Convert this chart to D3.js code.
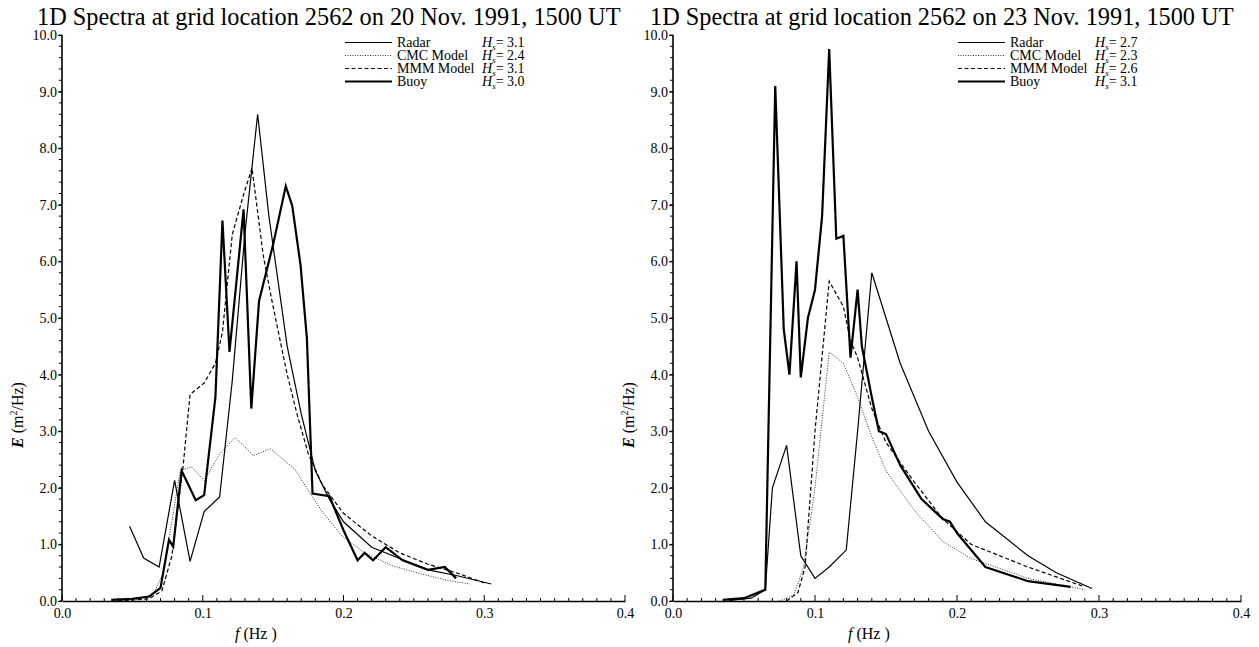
<!DOCTYPE html>
<html><head><meta charset="utf-8">
<script src="https://cdn.jsdelivr.net/npm/d3@7"></script>
<style>
html,body{margin:0;padding:0;background:#fff;}
svg{display:block;}
svg text{font-family:"Liberation Serif","Times New Roman",Times,serif !important;fill:#000;}
</style></head>
<body>
<svg id="chart" width="1259" height="647"></svg>
<script>
// ---------- data ----------
const titles = ["1D Spectra at grid location 2562 on 20 Nov. 1991, 1500 UT",
                "1D Spectra at grid location 2562 on 23 Nov. 1991, 1500 UT"];
const seriesNames = ["Radar", "CMC Model", "MMM Model", "Buoy"];
const hsLeft = ["3.1", "2.4", "3.1", "3.0"];
const hsRight = ["2.7", "2.3", "2.6", "3.1"];
const xTickVals = [0, 0.1, 0.2, 0.3, 0.4];
const yTickVals = [0,1,2,3,4,5,6,7,8,9,10];

// Left panel (20 Nov.) [f (Hz), E (m^2/Hz)]
const L_radar = [[0.048,1.32],[0.058,0.76],[0.069,0.6],[0.080,2.13],[0.091,0.7],[0.101,1.58],[0.112,1.84],
  [0.121,3.9],[0.130,6.5],[0.139,8.6],[0.147,6.8],[0.160,4.5],[0.170,3.3],[0.180,2.3],[0.190,1.8],
  [0.200,1.4],[0.220,0.95],[0.240,0.75],[0.260,0.55],[0.280,0.45],[0.305,0.3]];
const L_cmc = [[0.035,0.0],[0.055,0.03],[0.065,0.12],[0.072,0.5],[0.078,1.4],[0.084,2.3],[0.092,2.37],
  [0.101,2.13],[0.112,2.6],[0.123,2.89],[0.136,2.57],[0.148,2.69],[0.165,2.34],[0.184,1.61],[0.198,1.17],
  [0.215,0.85],[0.235,0.62],[0.255,0.48],[0.275,0.36],[0.29,0.3]];
const L_mmm = [[0.04,0.0],[0.062,0.04],[0.071,0.18],[0.078,0.79],[0.086,2.37],[0.091,3.65],[0.101,3.85],
  [0.109,4.2],[0.114,4.75],[0.121,6.48],[0.129,7.18],[0.135,7.65],[0.143,6.1],[0.150,5.2],[0.160,4.0],
  [0.167,3.3],[0.175,2.6],[0.185,2.05],[0.200,1.55],[0.220,1.15],[0.240,0.85],[0.260,0.65],[0.280,0.5],[0.300,0.32]];
const L_buoy = [[0.035,0.02],[0.05,0.04],[0.062,0.08],[0.070,0.23],[0.076,1.08],[0.079,0.96],[0.085,2.3],
  [0.095,1.78],[0.101,1.87],[0.109,3.6],[0.114,6.72],[0.119,4.4],[0.129,6.92],[0.1345,3.4],[0.140,5.3],
  [0.150,6.3],[0.159,7.33],[0.1636,6.98],[0.1695,5.93],[0.174,4.64],[0.178,1.9],[0.190,1.85],[0.200,1.25],
  [0.210,0.72],[0.215,0.85],[0.221,0.72],[0.230,0.95],[0.242,0.72],[0.260,0.55],[0.272,0.6],[0.280,0.4]];

// Right panel (23 Nov.)
const R_radar = [[0.04,0.01],[0.055,0.05],[0.065,0.2],[0.070,2.0],[0.080,2.75],[0.090,0.8],[0.100,0.4],
  [0.110,0.6],[0.122,0.9],[0.130,3.0],[0.140,5.8],[0.150,5.0],[0.160,4.2],[0.180,3.0],[0.200,2.1],
  [0.220,1.4],[0.250,0.8],[0.270,0.5],[0.295,0.22]];
const R_cmc = [[0.075,0.0],[0.085,0.1],[0.092,0.6],[0.100,2.0],[0.110,4.4],[0.120,4.2],[0.130,3.6],
  [0.140,2.9],[0.150,2.3],[0.170,1.6],[0.190,1.05],[0.210,0.75],[0.250,0.4],[0.290,0.2]];
const R_mmm = [[0.08,0.0],[0.088,0.15],[0.093,0.6],[0.100,3.0],[0.110,5.65],[0.120,5.2],[0.125,4.6],
  [0.130,4.3],[0.140,3.4],[0.150,2.8],[0.170,2.1],[0.190,1.45],[0.210,1.0],[0.250,0.6],[0.290,0.25]];
const R_buoy = [[0.035,0.02],[0.050,0.05],[0.065,0.2],[0.072,9.1],[0.078,4.8],[0.082,4.0],[0.087,6.0],
  [0.090,3.95],[0.095,5.0],[0.100,5.5],[0.105,6.8],[0.110,9.75],[0.115,6.4],[0.120,6.45],[0.125,4.3],
  [0.130,5.5],[0.133,4.5],[0.140,3.6],[0.145,3.0],[0.150,2.95],[0.160,2.4],[0.175,1.8],[0.190,1.45],
  [0.195,1.4],[0.200,1.2],[0.220,0.6],[0.250,0.35],[0.280,0.25]];

// ---------- drawing ----------
const svg = d3.select("#chart");
const FONT = '"Liberation Serif","Times New Roman",Times,serif';
const styles = [
  {w:1.2, dash:null, op:1},
  {w:1.0, dash:"1,1.5", op:0.8},
  {w:1.2, dash:"4,2.5", op:1},
  {w:2.2, dash:null, op:1}
];

function panel(cfg){
  const x = d3.scaleLinear().domain([0,0.4]).range([cfg.left, cfg.right]);
  const y = d3.scaleLinear().domain([0,10]).range([cfg.bottom, cfg.top]);
  const g = svg.append("g");

  g.append("text").attr("x", cfg.titleX).attr("y", 25).style("font-size","24.3px").text(cfg.title);

  const xa = d3.axisBottom(x).tickValues(xTickVals).tickFormat(d3.format(".1f")).tickSize(0).tickPadding(7);
  const xg = g.append("g").attr("transform", `translate(0,${cfg.bottom})`).call(xa);
  xg.attr("font-family", null);
  xg.select(".domain").attr("stroke","#000").attr("stroke-width",1.6);
  xg.selectAll("text").style("font-size","14px").style("font-family", FONT);
  const xMinor = d3.range(0, 0.4001, 0.01);
  g.selectAll(".xmin").data(xMinor).enter().append("line")
    .attr("x1", d=>x(d)).attr("x2", d=>x(d))
    .attr("y1", cfg.bottom).attr("y2", (d,i)=> cfg.bottom - (i%10===0 ? 6 : 3))
    .attr("stroke","#000").attr("stroke-width",1);

  const ya = d3.axisLeft(y).tickValues(yTickVals).tickFormat(d3.format(".1f")).tickSize(4).tickPadding(1);
  const yg = g.append("g").attr("transform", `translate(${cfg.left},0)`).call(ya);
  yg.attr("font-family", null);
  yg.select(".domain").attr("stroke","#000").attr("stroke-width",1.6).attr("d", `M0,${cfg.bottom}V${cfg.top}`);
  yg.selectAll("text").style("font-size","14px").style("font-family", FONT);
  const yMinor = d3.range(0, 10.001, 0.2);
  g.selectAll(".ymin").data(yMinor).enter().append("line")
    .attr("x1", cfg.left - 3).attr("x2", cfg.left)
    .attr("y1", d=>y(d)).attr("y2", d=>y(d))
    .attr("stroke","#000").attr("stroke-width",1);

  const xl = g.append("text").attr("x", cfg.xLabelX).attr("y", 639).style("font-size","16px");
  xl.append("tspan").style("font-style","italic").text("f");
  xl.append("tspan").text(" (Hz   )");
  const yl = g.append("text").attr("transform", `translate(${cfg.left-39},${cfg.yLabelY}) rotate(-90)`)
    .attr("text-anchor","middle").style("font-size","16px");
  yl.append("tspan").style("font-style","italic").style("font-weight","bold").text("E");
  yl.append("tspan").text("  (m");
  yl.append("tspan").style("font-size","10px").attr("dy", -6).text("2");
  yl.append("tspan").attr("dy", 6).text("/Hz)");

  const line = d3.line().x(d=>x(d[0])).y(d=>y(d[1]));
  cfg.series.forEach((s,i)=>{
    const st = styles[i];
    g.append("path").datum(s).attr("d", line).attr("fill","none")
      .attr("stroke","#000").attr("stroke-width", st.w).attr("stroke-opacity", st.op)
      .attr("stroke-linejoin","miter").attr("stroke-dasharray", st.dash);
  });

  seriesNames.forEach((n,i)=>{
    const ly = cfg.legY + i*13;
    const st = styles[i];
    g.append("line").attr("x1", cfg.legX).attr("x2", cfg.legX+47).attr("y1", ly-4.5).attr("y2", ly-4.5)
      .attr("stroke","#000").attr("stroke-width", st.w).attr("stroke-opacity", st.op).attr("stroke-dasharray", st.dash);
    g.append("text").attr("x", cfg.legX+52).attr("y", ly).style("font-size","14px").text(n);
    const t = g.append("text").attr("x", cfg.legX+137).attr("y", ly).style("font-size","14px");
    t.append("tspan").style("font-style","italic").text("H");
    t.append("tspan").style("font-size","9px").attr("dy", 3).style("font-style","italic").text("s");
    t.append("tspan").attr("dy", -3).text("= " + cfg.hs[i]);
  });
}

panel({left:62, right:625, top:35, bottom:601, title:titles[0], titleX:37, xLabelX:235, yLabelY:415,
       legX:345, legY:47, hs:hsLeft, series:[L_radar, L_cmc, L_mmm, L_buoy]});
panel({left:673, right:1241, top:35, bottom:601, title:titles[1], titleX:650, xLabelX:848, yLabelY:415,
       legX:958, legY:47, hs:hsRight, series:[R_radar, R_cmc, R_mmm, R_buoy]});
</script>
</body></html>
